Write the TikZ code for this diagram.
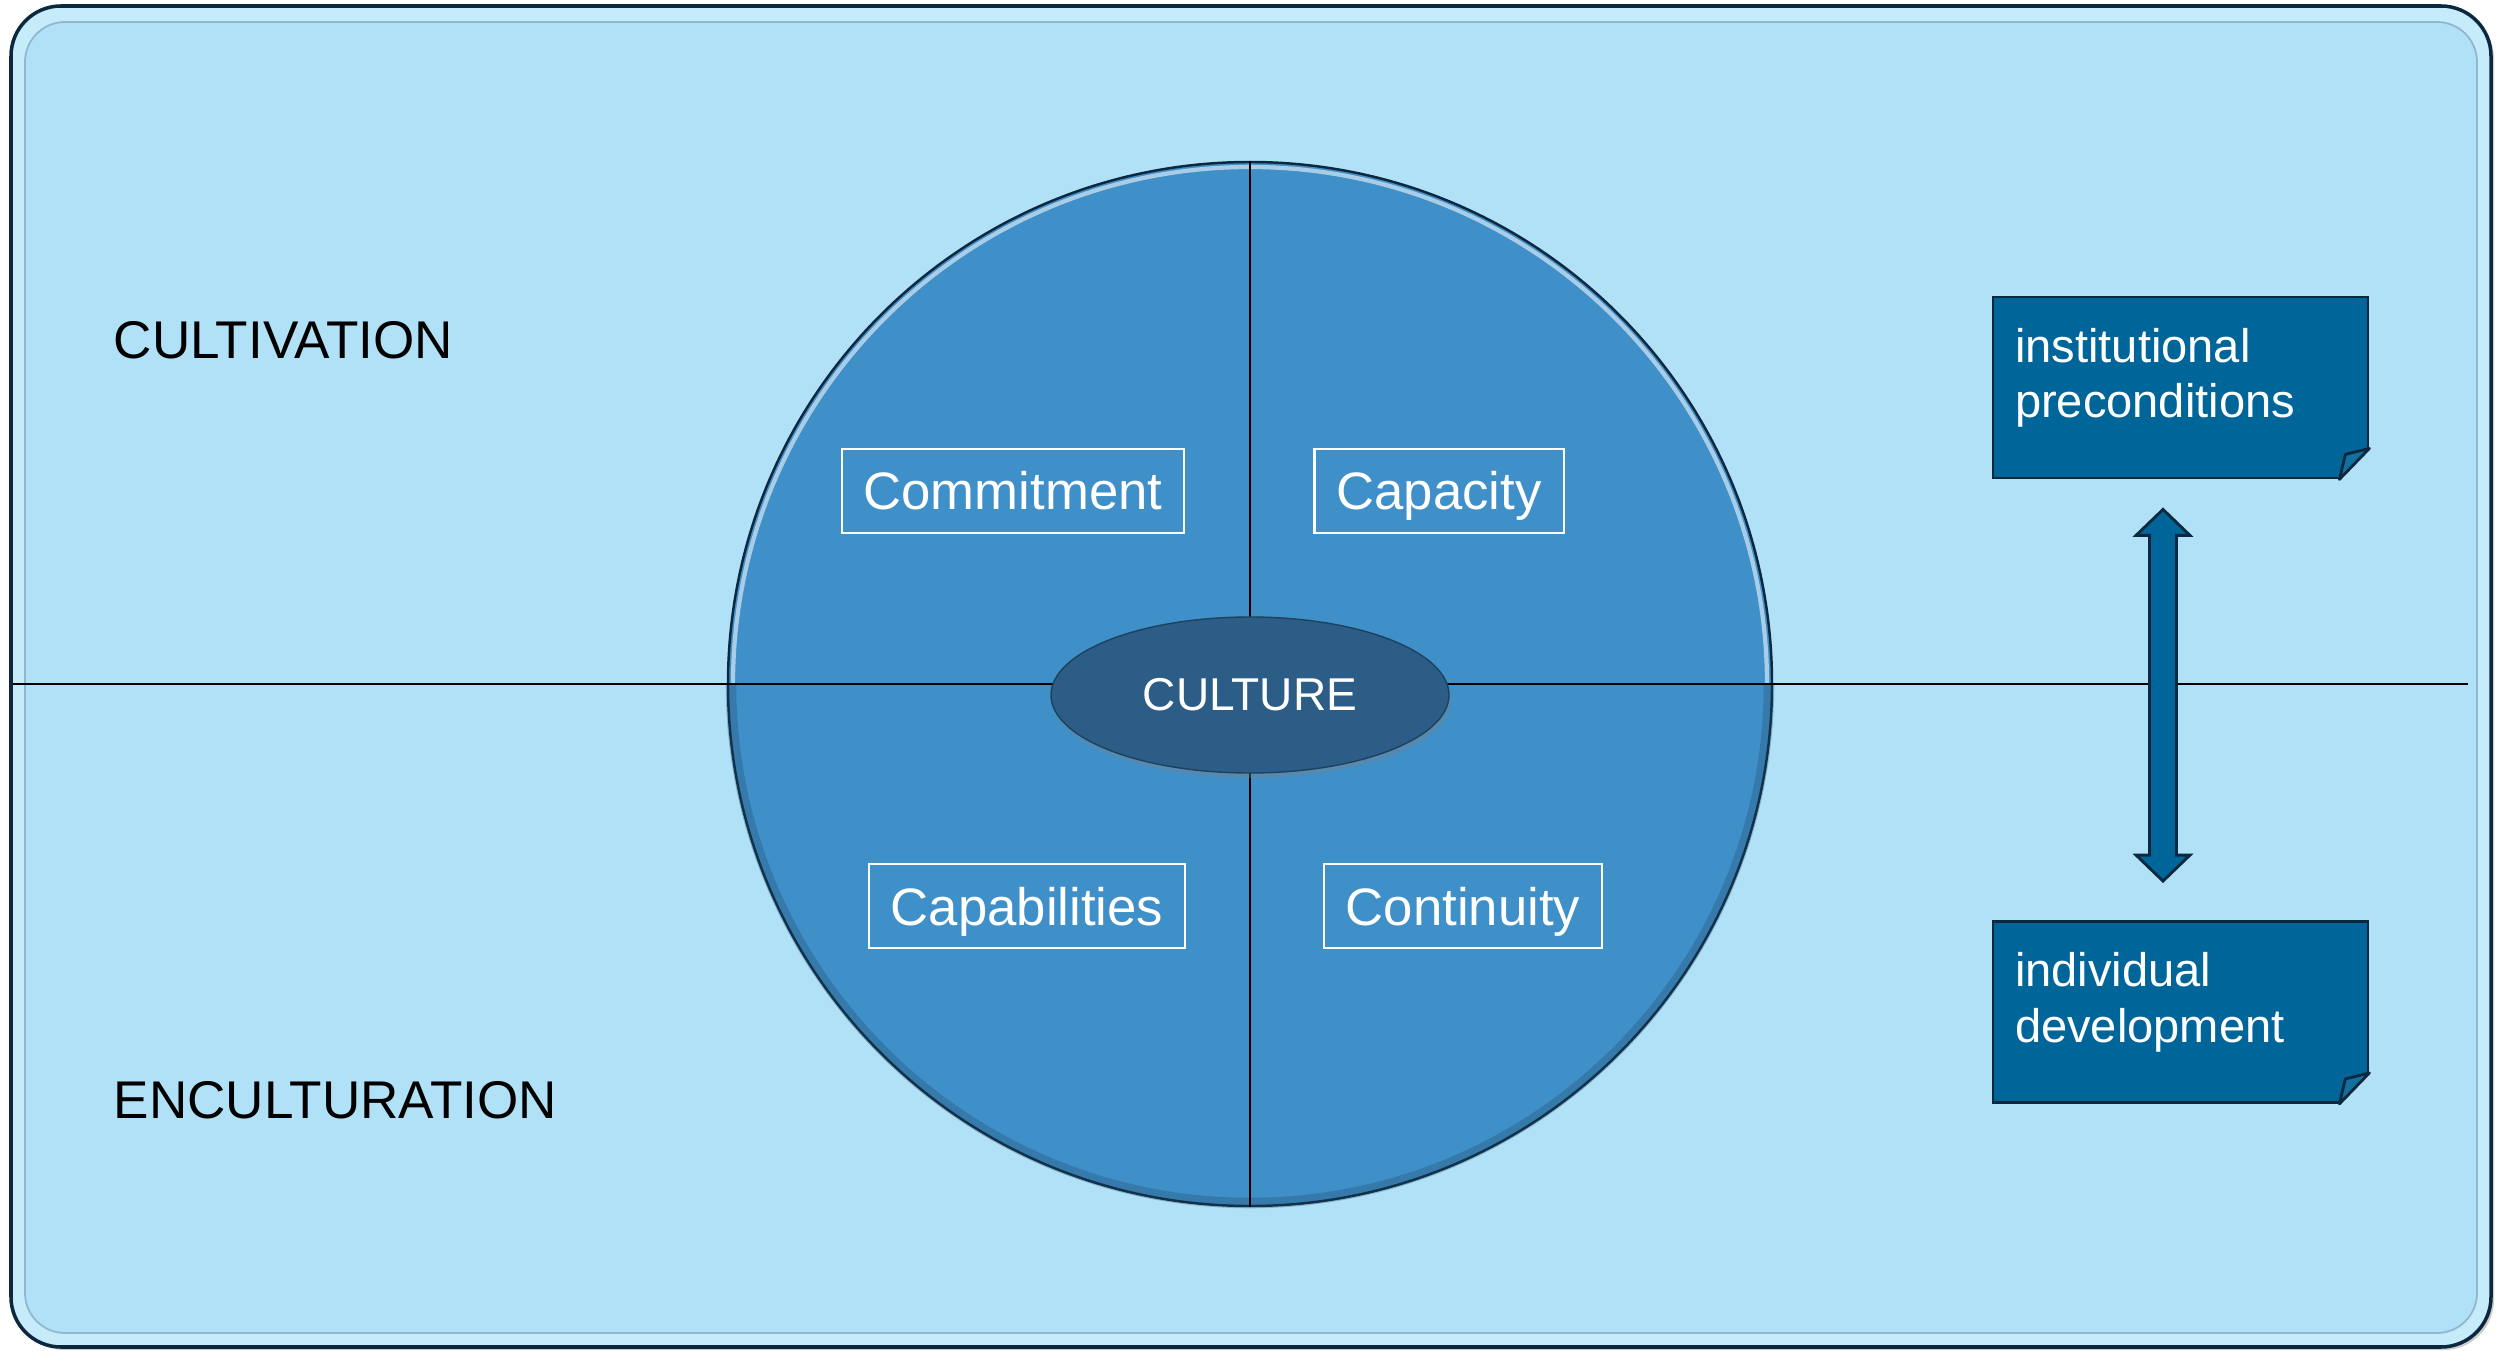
\documentclass[tikz,border=0pt]{standalone}
\usepackage{fontspec}
\setmainfont{Liberation Sans}
\usetikzlibrary{calc,shapes.geometric,shadows}

\definecolor{paleblue}{RGB}{177,225,247}
\definecolor{bandblue}{RGB}{198,236,251}
\definecolor{rimgrey}{RGB}{130,165,185}
\definecolor{wheelblue}{RGB}{63,143,201}
\definecolor{coreblue}{RGB}{43,93,134}
\definecolor{noteblue}{RGB}{0,101,153}
\definecolor{foldblue}{RGB}{18,112,160}
\definecolor{darkline}{RGB}{12,40,62}

\begin{document}
\begin{tikzpicture}[every node/.style={font=\fontsize{15}{18}\selectfont},
	quarter/.style={draw=white, line width=0.6pt, text=white, inner xsep=0.22cm, minimum height=0.84cm,
		text height=0.45cm, text depth=0.07cm},
	note/.style={fill=noteblue, draw=darkline, line width=0.8pt, text=white, align=left, text width=3.31cm,
		inner xsep=0.22cm, minimum height=1.81cm, text depth=0.85cm, font=\fontsize{13.4}{15.9}\selectfont},
	side/.style={anchor=west, inner sep=0pt, font=\fontsize{15.1}{18}\selectfont}]
	\useasboundingbox (0,0) rectangle (24.96,13.5);
	% frame
	\draw[fill=bandblue, draw=darkline, line width=1pt, rounded corners=0.5cm,
		drop shadow={shadow xshift=0.03cm, shadow yshift=-0.03cm, opacity=.4}] (0.11,0.03) rectangle (24.91,13.44);
	\draw[fill=paleblue, draw=rimgrey!70!paleblue, line width=0.5pt, rounded corners=0.4cm] (0.25,0.17) rectangle (24.77,13.28);
	% the wheel
	\node[circle, minimum size=10.44cm, inner sep=0pt, fill=wheelblue, draw=darkline, line width=0.7pt] (wheel) at (12.50,6.66) {};
	\draw[white!55!wheelblue, line width=1.2pt] ($(wheel.center)+(180:5.17)$) arc (180:0:5.17);
	\draw[coreblue!80!black, line width=3pt, opacity=.3] ($(wheel.center)+(180:5.19)$) arc (180:360:5.19);
	\coordinate (westend) at (0.13,6.66);
	\coordinate (eastend) at (24.68,6.66);
	\draw[line width=0.6pt] (westend) -- (eastend);
	\draw[line width=0.6pt] (wheel.north) -- (wheel.south);
	\node[ellipse, minimum width=3.98cm, minimum height=1.56cm, inner sep=0pt, fill=coreblue, draw=coreblue!70!black,
		text=white, font=\fontsize{13.1}{16}\selectfont,
		drop shadow={shadow xshift=0.02cm, shadow yshift=-0.05cm, opacity=.35}] (core) at ($(wheel.center)+(0,-0.11)$) {CULTURE};
	\node[quarter] (commitment) at ($(wheel.center)+(-2.37,1.93)$) {Commitment};
	\node[quarter] (capacity) at ($(wheel.center)+(1.89,1.93)$) {Capacity};
	\node[quarter] (capabilities) at ($(wheel.center)+(-2.23,-2.22)$) {Capabilities};
	\node[quarter] (continuity) at ($(wheel.center)+(2.13,-2.22)$) {Continuity};
	% left side
	\node[side] (cultivation) at (1.13,10.10) {CULTIVATION};
	\node[side] (enculturation) at (1.13,2.50) {ENCULTURATION};
	% right side notes
	\node[note] (inst) at (21.805,9.625) {institutional\\preconditions};
	\node[note] (indiv) at (21.805,3.38) {individual\\development};
	\foreach \n in {inst,indiv} {
		\fill[paleblue] ($(\n.south east)+(0,0.31)$) -- ($(\n.south east)+(0.05,0.31)$) -- ($(\n.south east)+(0.05,-0.05)$)
			-- ($(\n.south east)+(-0.30,-0.05)$) -- ($(\n.south east)+(-0.30,0)$) -- cycle;
		\filldraw[fill=foldblue, draw=darkline, line width=0.8pt, line join=round] ($(\n.south east)+(-0.30,0)$)
			-- ($(\n.south east)+(-0.24,0.25)$) -- ($(\n.south east)+(0,0.31)$) -- cycle;
	}
	\coordinate (tipup) at ($(inst.south)+(-0.175,-0.30)$);
	\coordinate (tipdn) at ($(indiv.north)+(-0.175,0.39)$);
	\filldraw[fill=noteblue, draw=darkline, line width=0.8pt]
		(tipup) -- ++(0.27,-0.26) -- ++(-0.135,0) -- ($(tipdn)+(0.135,0.26)$) -- ++(0.135,0) -- (tipdn)
		-- ++(-0.27,0.26) -- ++(0.135,0) -- ($(tipup)+(-0.135,-0.26)$) -- ++(-0.135,0) -- cycle;
\end{tikzpicture}
\end{document}
